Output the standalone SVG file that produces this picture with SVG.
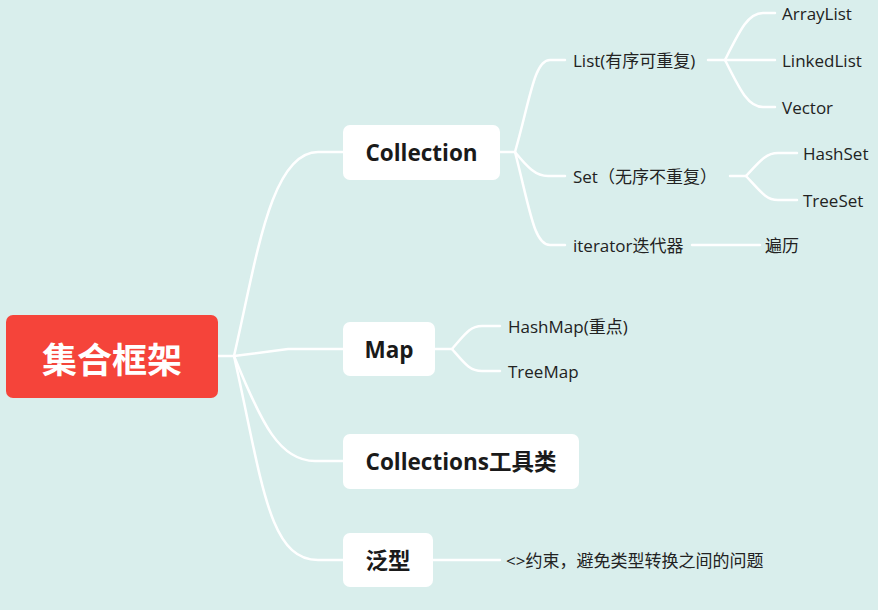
<svg xmlns="http://www.w3.org/2000/svg" width="878" height="610" viewBox="0 0 878 610">
<style>
.bg{fill:#d9eeec}
.lk{fill:none;stroke:#ffffff;stroke-width:2.5;stroke-linecap:round}
.nd{fill:#ffffff}
.nt{font-family:"Open Sans","Noto Sans CJK SC",sans-serif;font-weight:bold;font-size:22.5px;fill:#1a1a1a;text-anchor:middle;dominant-baseline:central}
.lt{font-family:"Open Sans","Noto Sans CJK SC",sans-serif;font-size:17px;fill:#222222;dominant-baseline:central}
</style>
<rect class="bg" x="0" y="0" width="878" height="610"/>
<g id="connectors">
<path class="lk" d="M218,356 H234"/>
<path class="lk" d="M234,356 C256,262 270,152 318,152 H343"/>
<path class="lk" d="M234,356 L288,349 H343"/>
<path class="lk" d="M234,356 C262,425 280,461 315,461 H343"/>
<path class="lk" d="M234,356 C262,480 268,560 318,560 H343"/>
<path class="lk" d="M500,152 H515"/>
<path class="lk" d="M515,152 C530,100 534,60 550,60 H565"/>
<path class="lk" d="M515,152 C528,168 536,176 548,176 H565"/>
<path class="lk" d="M515,152 C530,210 534,245 550,245 H565"/>
<path class="lk" d="M708,60 H725"/>
<path class="lk" d="M725,60 C740,30 748,13 763,13 H775"/>
<path class="lk" d="M725,60 H775"/>
<path class="lk" d="M725,60 C740,90 748,107 763,107 H775"/>
<path class="lk" d="M730,176 H746"/>
<path class="lk" d="M746,176 C760,161 766,153 778,153 H797"/>
<path class="lk" d="M746,176 C760,191 766,200 778,200 H797"/>
<path class="lk" d="M692,245 H760"/>
<path class="lk" d="M435,349 H452"/>
<path class="lk" d="M452,349 C465,334 470,326 482,326 H500"/>
<path class="lk" d="M452,349 C465,364 470,371 482,371 H500"/>
<path class="lk" d="M433,560 H500"/>
</g>
<g id="root">
<rect x="6" y="315" width="212" height="83" rx="7" fill="#f5443a"/>
<text x="112" y="357" font-family="'Noto Sans CJK SC',sans-serif" font-weight="bold" font-size="35" fill="#ffffff" text-anchor="middle" dominant-baseline="central">集合框架</text>
</g>
<g id="collection">
<rect class="nd" x="343" y="125" width="157" height="55" rx="7"/>
<text class="nt" x="421.5" y="152.5">Collection</text>
</g>
<g id="map">
<rect class="nd" x="343" y="322" width="92" height="54" rx="7"/>
<text class="nt" x="389" y="349">Map</text>
</g>
<g id="collections">
<rect class="nd" x="343" y="434" width="236" height="55" rx="7"/>
<text class="nt" x="461" y="461.5">Collections工具类</text>
</g>
<g id="generic">
<rect class="nd" x="343" y="533" width="90" height="54" rx="7"/>
<text class="nt" x="388" y="560">泛型</text>
</g>
<g id="list"><text class="lt" x="573" y="60">List(有序可重复)</text></g>
<g id="set"><text class="lt" x="573" y="176">Set（无序不重复）</text></g>
<g id="iterator"><text class="lt" x="573" y="245">iterator迭代器</text></g>
<g id="arraylist"><text class="lt" x="782" y="13">ArrayList</text></g>
<g id="linkedlist"><text class="lt" x="782" y="60">LinkedList</text></g>
<g id="vector"><text class="lt" x="782" y="107">Vector</text></g>
<g id="hashset"><text class="lt" x="803" y="153">HashSet</text></g>
<g id="treeset"><text class="lt" x="803" y="200">TreeSet</text></g>
<g id="traverse"><text class="lt" x="765" y="245">遍历</text></g>
<g id="hashmap"><text class="lt" x="508" y="326">HashMap(重点)</text></g>
<g id="treemap"><text class="lt" x="508" y="371">TreeMap</text></g>
<g id="constraint"><text class="lt" x="506" y="560">&lt;&gt;约束，避免类型转换之间的问题</text></g>
</svg>
